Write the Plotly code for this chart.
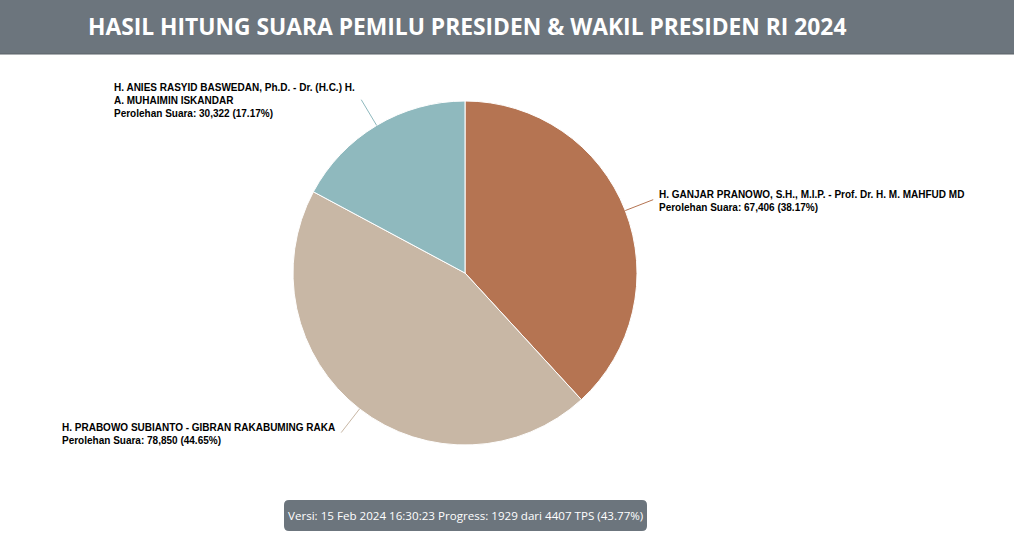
import math
import plotly.graph_objects as go

# ---- data ----
candidates = [
    "H. GANJAR PRANOWO, S.H., M.I.P. - Prof. Dr. H. M. MAHFUD MD",
    "H. PRABOWO SUBIANTO - GIBRAN RAKABUMING RAKA",
    "H. ANIES RASYID BASWEDAN, Ph.D. - Dr. (H.C.) H.<br>A. MUHAIMIN ISKANDAR",
]
votes = [67406, 78850, 30322]
colors = ["#b57452", "#c8b7a5", "#8fb9be"]
title_text = "HASIL HITUNG SUARA PEMILU PRESIDEN &amp; WAKIL PRESIDEN RI 2024"
footer_text = "Versi: 15 Feb 2024 16:30:23 Progress: 1929 dari 4407 TPS (43.77%)"

# ---- layout geometry (pixels) ----
W, H = 1014, 540
CX, CY, R = 465, 273, 172
HEADER_H = 54


def px(x):
    return x / W


def py(y):
    return 1 - y / H


fig = go.Figure()
fig.add_trace(go.Pie(
    labels=[c.replace("<br>", " ") for c in candidates],
    values=votes,
    marker=dict(colors=colors, line=dict(color="white", width=1)),
    sort=False,
    direction="clockwise",
    rotation=0,
    textinfo="none",
    hovertemplate="%{label}<br>Perolehan Suara: %{value:,}<extra></extra>",
    showlegend=False,
    domain=dict(x=[px(CX - R), px(CX + R)], y=[py(CY + R), py(CY - R)]),
))

total = sum(votes)
annotations = []
shapes = []
cum = 0
for name, v, col in zip(candidates, votes, colors):
    mid = (cum + v / 2) / total * 2 * math.pi
    cum += v
    sx, sy = CX + R * math.sin(mid), CY - R * math.cos(mid)
    ex, ey = CX + (R + 30) * math.sin(mid), CY - (R + 30) * math.cos(mid)
    shapes.append(dict(type="line", xref="paper", yref="paper",
                       x0=px(sx), y0=py(sy), x1=px(ex), y1=py(ey),
                       line=dict(color=col, width=1)))
    pct = v / total * 100
    txt = f"<b>{name}<br>Perolehan Suara: {v:,} ({pct:.2f}%)</b>"
    right = math.sin(mid) > 0
    annotations.append(dict(
        text=txt, xref="paper", yref="paper",
        x=px(ex + 4 if right else ex - 4), y=py(ey + 1),
        xanchor="left" if right else "right", yanchor="middle",
        align="left", showarrow=False,
        font=dict(family="Liberation Sans, Arial", size=10, color="#000000"),
    ))

# header bar
shapes.append(dict(type="rect", xref="paper", yref="paper", x0=0, x1=1,
                   y0=py(HEADER_H), y1=1, fillcolor="#6c757d", line=dict(width=0), layer="below"))
shapes.append(dict(type="line", xref="paper", yref="paper", x0=0, x1=1,
                   y0=py(HEADER_H), y1=py(HEADER_H), line=dict(color="#5a6268", width=1)))
annotations.append(dict(
    text=f"<b>{title_text}</b>", xref="paper", yref="paper",
    x=px(86), y=py(HEADER_H / 2 - 1), xanchor="left", yanchor="middle", showarrow=False,
    font=dict(family="Open Sans", size=22.8, color="white"),
))

# footer badge (rounded rectangle)
bx0, by0, bx1, by1, rr = 284, 500, 647, 531, 5
path = (f"M {px(bx0 + rr)},{py(by0)} L {px(bx1 - rr)},{py(by0)} "
        f"Q {px(bx1)},{py(by0)} {px(bx1)},{py(by0 + rr)} L {px(bx1)},{py(by1 - rr)} "
        f"Q {px(bx1)},{py(by1)} {px(bx1 - rr)},{py(by1)} L {px(bx0 + rr)},{py(by1)} "
        f"Q {px(bx0)},{py(by1)} {px(bx0)},{py(by1 - rr)} L {px(bx0)},{py(by0 + rr)} "
        f"Q {px(bx0)},{py(by0)} {px(bx0 + rr)},{py(by0)} Z")
shapes.append(dict(type="path", xref="paper", yref="paper", path=path,
                   fillcolor="#6c757d", line=dict(width=0)))
annotations.append(dict(
    text=footer_text, xref="paper", yref="paper",
    x=px((bx0 + bx1) / 2), y=py((by0 + by1) / 2), xanchor="center", yanchor="middle",
    showarrow=False, font=dict(family="Open Sans", size=11.6, color="white"),
))

fig.update_layout(
    width=W, height=H, margin=dict(l=0, r=0, t=0, b=0),
    paper_bgcolor="white", plot_bgcolor="white",
    shapes=shapes, annotations=annotations,
)

fig.write_html("out.html", config={"displayModeBar": False},
               post_script="document.body.style.margin='0';")
